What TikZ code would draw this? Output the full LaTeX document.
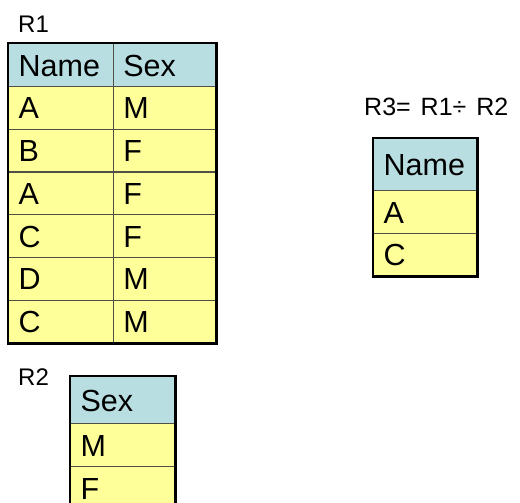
\documentclass[tikz,border=0pt]{standalone}
\usepackage{fontspec}
\setmainfont{Liberation Sans}
\definecolor{hdrblue}{RGB}{184,222,226}
\definecolor{rowyellow}{RGB}{255,255,153}
\definecolor{gridline}{RGB}{80,80,70}
\tikzset{
  cell/.style 2 args={draw=gridline, line width=1.3pt, fill=rowyellow,
    anchor=north west, inner xsep=10pt, inner ysep=0pt,
    text width=#1, minimum height=#2, align=left,
    text height=22pt, text depth=0pt,
    font=\fontsize{30.5}{30.5}\selectfont},
  hdr/.style 2 args={cell={#1}{#2}, fill=hdrblue},
  frame/.style={draw=black, line width=2.4pt},
  lbl/.style={anchor=base west, inner sep=0pt, font=\fontsize{24}{24}\selectfont}
}
\begin{document}
\begin{tikzpicture}[x=1pt, y=-1pt]
\useasboundingbox (0,0) rectangle (520,503);
\clip (0,0) rectangle (520,503);

% R1
\node[lbl] (r1) at (18,33) {R1};
\node[hdr={84.7pt}{43pt}] (r1h1) at (8,43) {Name};
\node[hdr={82.3pt}{43pt}] (r1h2) at (112.7,43) {Sex};
\foreach \n/\s [count=\i] in {A/M,B/F,A/F,C/F,D/M,C/M}{
  \node[cell={84.7pt}{42.7pt}] (r1n\i) at (8,{86+(\i-1)*42.7}) {\n};
  \node[cell={82.3pt}{42.7pt}] (r1s\i) at (112.7,{86+(\i-1)*42.7}) {\s};
}
\draw[frame] (r1h1.north west) rectangle (r1s6.south east);

%%%%%%%%%%%%%%%%%%%%%%%%%%%%%%%%%%%%%%%%

% R2
\node[lbl] (r2) at (18,385) {R2};
\node[hdr={84pt}{47pt}] (r2h) at (70,376) {Sex};
\node[cell={84pt}{43pt}] (r2s1) at (70,423) {M};
\node[cell={84pt}{43pt}] (r2s2) at (70,466) {F};
\draw[frame] (r2h.north west) rectangle (r2s2.south east);

%%%%%%%%%%%%%%%%%%%%%%%%%%%%%%%%%%%%%%%%

% R3 = R1 / R2
\node[lbl, font=\fontsize{25}{25}\selectfont] (r3) at (364,116)
  {R3=\hspace{0.4em}R1÷\hspace{0.4em}R2};
\node[hdr={83pt}{52pt}] (r3h) at (373,138) {Name};
\node[cell={83pt}{43pt}] (r3n1) at (373,190) {A};
\node[cell={83pt}{42pt}] (r3n2) at (373,233) {C};
\draw[frame] (r3h.north west) rectangle (r3n2.south east);

\end{tikzpicture}
\end{document}
